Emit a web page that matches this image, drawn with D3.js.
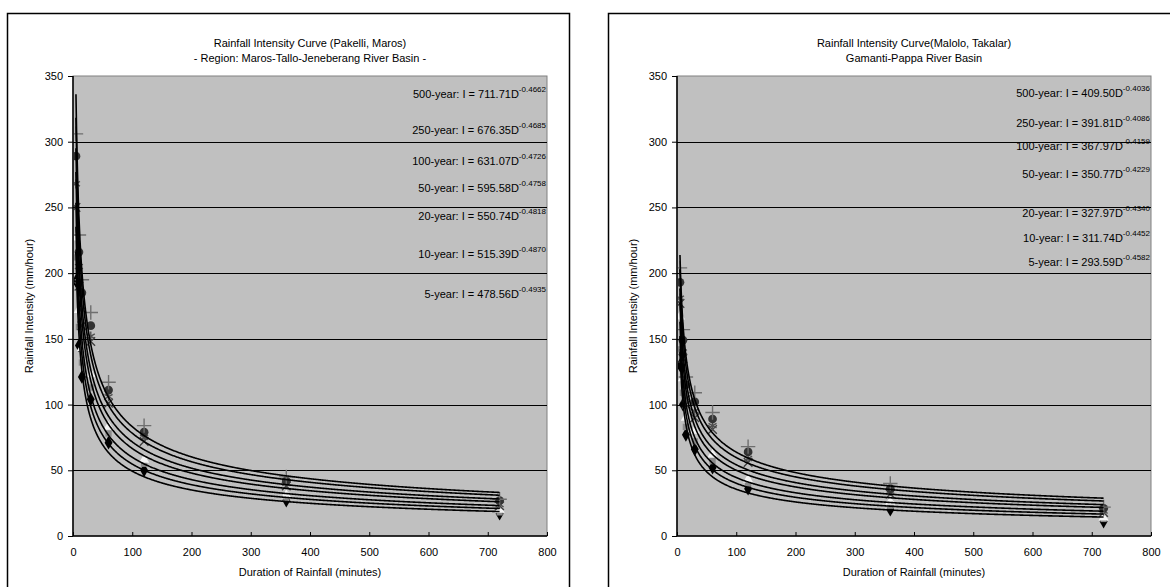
<!DOCTYPE html>
<html>
<head>
<meta charset="utf-8">
<script src="https://cdn.jsdelivr.net/npm/d3@7"></script>
<style>
  body { margin: 0; background: #fff; }
  text { font-family: "Liberation Sans", Arial, sans-serif; fill: #000; }
</style>
</head>
<body>
<svg id="chart" width="1170" height="587"></svg>
<script>
// durations of rainfall (minutes) and return periods
const durations = [5, 10, 15, 30, 60, 120, 360, 720];
const periods = ["5-year", "10-year", "20-year", "50-year", "100-year", "250-year", "500-year"];
const xTicks = [0, 100, 200, 300, 400, 500, 600, 700, 800];
const yTicks = [0, 50, 100, 150, 200, 250, 300, 350];

// Pakelli, Maros : I = a * D^b
const pakelliCoef = [478.56, 515.39, 550.74, 595.58, 631.07, 676.35, 711.71];
const pakelliExp = [-0.4935, -0.4870, -0.4818, -0.4758, -0.4726, -0.4685, -0.4662];
const pakelliObs = [
  [194, 145, 121, 104, 71, 50, 27, 17],
  [212, 159, 132, 113, 78, 55, 29, 18],
  [227, 172, 143, 123, 83, 58, 31, 20],
  [250, 190, 160, 148, 101, 72, 38, 23],
  [268, 205, 172, 152, 106, 75, 40, 24],
  [289, 216, 185, 160, 111, 79, 42, 27],
  [306, 229, 195, 170, 117, 84, 45, 28]
];

// Malolo, Takalar
const maloloCoef = [293.59, 311.74, 327.97, 350.77, 367.97, 391.81, 409.50];
const maloloExp = [-0.4582, -0.4452, -0.4340, -0.4229, -0.4159, -0.4086, -0.4036];
const maloloObs = [
  [130, 100, 77, 66, 52, 36, 20, 11],
  [142, 109, 83, 72, 57, 40, 23, 13],
  [167, 120, 90, 80, 62, 43, 26, 14],
  [177, 135, 100, 90, 81, 56, 32, 18],
  [181, 140, 105, 95, 84, 59, 34, 19],
  [193, 149, 115, 102, 89, 64, 36, 21],
  [204, 157, 121, 109, 94, 68, 40, 22]
];

const svg = d3.select("#chart");

// marker look per return period (Excel default order, in grey)
const markers = [
  {type: d3.symbolDiamond, size: 55, fill: "#000", stroke: "none"},
  {type: d3.symbolSquare, size: 40, fill: "#8a8a8a", stroke: "none"},
  {type: d3.symbolTriangle, size: 45, fill: "#f4f4f4", stroke: "none"},
  {type: d3.symbolTimes || d3.symbolCross, size: 50, fill: "none", stroke: "#404040"},
  {type: d3.symbolAsterisk || d3.symbolStar, size: 60, fill: "none", stroke: "#505050"},
  {type: d3.symbolCircle, size: 60, fill: "#333", stroke: "none"},
  {type: d3.symbolPlus || d3.symbolCross, size: 70, fill: "none", stroke: "#6e6e6e"}
];

function drawPanel(p) {
    const g = svg.append("g");

    // outer frame of the chart
    g.append("rect")
        .attr("x", p.frame[0] + 0.5).attr("y", 13.5)
        .attr("width", p.frame[1]).attr("height", 600)
        .attr("fill", "#fff").attr("stroke", "#000").attr("stroke-width", 1.5);

    const x = d3.scaleLinear().domain([0, 800]).range([p.left, p.left + 474]);
    const y = d3.scaleLinear().domain([0, 350]).range([536, 76]);

    // plot area
    g.append("rect")
        .attr("x", x(0)).attr("y", y(350))
        .attr("width", x(800) - x(0)).attr("height", y(0) - y(350))
        .attr("fill", "#c0c0c0").attr("stroke", "#808080");

    // gridlines
    g.append("g").selectAll("line")
        .data(yTicks.filter(d => d > 0 && d < 350))
        .join("line")
        .attr("x1", x(0)).attr("x2", x(800))
        .attr("y1", d => Math.round(y(d)) + 0.5).attr("y2", d => Math.round(y(d)) + 0.5)
        .attr("stroke", "#000").attr("stroke-width", 1);

    const clipId = "clip" + p.left;
    g.append("clipPath").attr("id", clipId)
        .append("rect")
        .attr("x", x(0) + 1).attr("y", y(350))
        .attr("width", x(800) - x(0) - 1).attr("height", y(0) - y(350));

    const plot = g.append("g").attr("clip-path", "url(#" + clipId + ")");

    // observed points
    p.obs.forEach((row, i) => {
        const m = markers[i];
        plot.append("g").selectAll("path")
            .data(row.map((v, j) => [durations[j], v]))
            .join("path")
            .attr("transform", d => "translate(" + x(d[0]) + "," + y(d[1]) + ")")
            .attr("d", d3.symbol().type(m.type).size(m.size))
            .attr("fill", m.fill)
            .attr("stroke", m.stroke)
            .attr("stroke-width", 1.4);
    });

    // power trendlines
    const line = d3.line().x(d => x(d[0])).y(d => y(d[1]));
    const dRange = d3.range(5, 720.01, 1);
    p.coef.forEach((a, i) => {
        plot.append("path")
            .attr("d", line(dRange.map(dd => [dd, a * Math.pow(dd, p.exp[i])])))
            .attr("fill", "none")
            .attr("stroke", "#000")
            .attr("stroke-width", 1.6);
    });

    // axes
    const yAxis = g.append("g")
        .attr("transform", "translate(" + x(0) + ",0)")
        .call(d3.axisLeft(y).tickValues(yTicks).tickSize(5).tickPadding(5).tickFormat(d3.format("d")));
    const xAxis = g.append("g")
        .attr("transform", "translate(0," + y(0) + ")")
        .call(d3.axisBottom(x).tickValues(xTicks).tickSize(-4).tickPadding(12).tickFormat(d3.format("d")));
    [yAxis, xAxis].forEach(ax => {
        ax.select(".domain").attr("stroke", "#000").attr("stroke-width", 1.5);
        ax.selectAll(".tick line").attr("stroke", "#000");
        ax.selectAll("text").attr("font-size", 11).attr("font-family", "Liberation Sans, Arial, sans-serif");
    });
    xAxis.select(".domain").attr("d", "M" + x(0) + ",0H" + x(800));
    yAxis.select(".domain").attr("d", "M0," + y(0) + "V" + y(350));

    // titles
    const cx = (x(0) + x(800)) / 2;
    p.title.forEach((t, i) => {
        g.append("text")
            .attr("x", cx).attr("y", 47 + i * 15)
            .attr("text-anchor", "middle").attr("font-size", 11)
            .text(t);
    });
    g.append("text")
        .attr("x", cx).attr("y", 576)
        .attr("text-anchor", "middle").attr("font-size", 11)
        .text("Duration of Rainfall (minutes)");
    g.append("text")
        .attr("transform", "translate(" + (x(0) - 40) + "," + (y(175)) + ") rotate(-90)")
        .attr("text-anchor", "middle").attr("font-size", 11)
        .text("Rainfall Intensity (mm/hour)");

    // trendline equations
    p.coef.forEach((a, i) => {
        const t = g.append("text")
            .attr("x", x(800) - 1).attr("y", p.labelY[i] + 4)
            .attr("text-anchor", "end").attr("font-size", 11);
        t.append("tspan").text(periods[i] + ":  I = " + a.toFixed(2) + "D");
        t.append("tspan").attr("dy", -6).attr("font-size", 8).text(p.exp[i].toFixed(4));
    });
}

drawPanel({
    frame: [7, 562], left: 73,
    coef: pakelliCoef, exp: pakelliExp, obs: pakelliObs,
    title: ["Rainfall Intensity Curve (Pakelli, Maros)", "- Region: Maros-Tallo-Jeneberang River Basin -"],
    labelY: [294, 254, 216, 188, 161, 130, 94]
});

drawPanel({
    frame: [608, 600], left: 677,
    coef: maloloCoef, exp: maloloExp, obs: maloloObs,
    title: ["Rainfall Intensity Curve(Malolo, Takalar)", "Gamanti-Pappa River Basin"],
    labelY: [262, 238, 213, 174, 146, 123, 93]
});
</script>
</body>
</html>
